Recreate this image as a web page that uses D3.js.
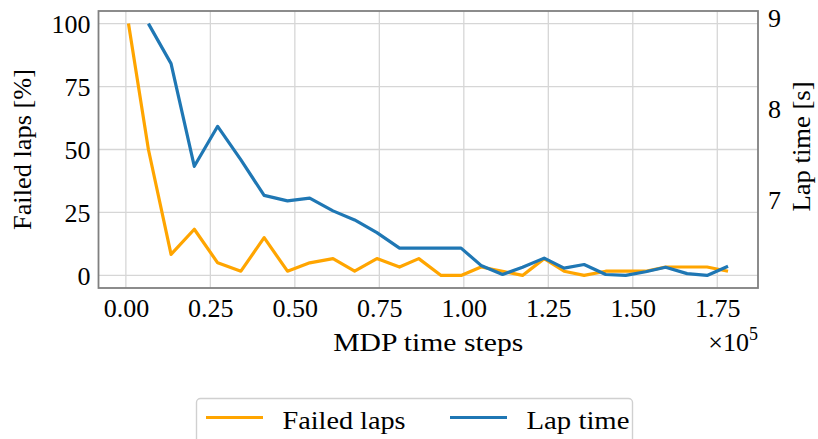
<!DOCTYPE html>
<html>
<head>
<meta charset="utf-8">
<script src="https://cdn.jsdelivr.net/npm/d3@7"></script>
<style>
  html, body { margin: 0; padding: 0; background: #fff; }
  svg { display: block; }
  text { font-family: "Liberation Serif", "Times New Roman", serif; fill: #000; }
</style>
</head>
<body>
<svg id="chart" width="818" height="439"></svg>
<script>
// Training progress: evaluation every few thousand MDP steps
const steps = [770, 6670, 13370, 20250, 27160, 34040, 40910, 47820, 54400, 61290,
               67690, 74280, 80970, 86670, 93280, 99190, 105090, 111470, 117370, 123780,
               129680, 135590, 141990, 147900, 153800, 159700, 166080, 171980, 178180];

// Share of evaluation laps that failed [%]
const failedLaps = [100, 50, 8.33, 18.33, 5, 1.67, 15, 1.67, 5, 6.67,
                    1.67, 6.67, 3.33, 6.67, 0, 0, 3.33, 1.67, 0, 6.67,
                    1.67, 0, 1.67, 1.67, 1.67, 3.33, 3.33, 3.33, 1.67];

// Mean lap time of completed laps [s] (none completed at the first evaluation)
const lapTime = [null, 8.94, 8.50, 7.37, 7.81, 7.44, 7.05, 6.99, 7.02, 6.88,
                 6.78, 6.64, 6.47, 6.47, 6.47, 6.47, 6.28, 6.18, 6.26, 6.36,
                 6.25, 6.29, 6.18, 6.17, 6.21, 6.26, 6.19, 6.17, 6.27];

const xTicks = [0, 25000, 50000, 75000, 100000, 125000, 150000, 175000];
const leftTicks = [0, 25, 50, 75, 100];
const rightTicks = [7, 8, 9];

const seriesNames = ["Failed laps", "Lap time"];
const seriesColors = ["#ffa500", "#1f77b4"];

const svg = d3.select("#chart");
const frame = { left: 98.5, top: 11, right: 758, bottom: 288 };
const W = frame.right - frame.left, H = frame.bottom - frame.top;
const FS = 26;

// matplotlib-style 5% padding around the data extent
function padded(ext) {
  const d = (ext[1] - ext[0]) * 0.05;
  return [ext[0] - d, ext[1] + d];
}
const x = d3.scaleLinear().domain(padded(d3.extent(steps))).range([frame.left, frame.right]);
const yL = d3.scaleLinear().domain(padded(d3.extent(failedLaps))).range([frame.bottom, frame.top]);
const yR = d3.scaleLinear().domain(padded(d3.extent(lapTime.filter(v => v != null)))).range([frame.bottom, frame.top]);

const g = svg.append("g");

// grid (left axis and x axis only)
g.append("g").selectAll("line").data(xTicks).join("line")
  .attr("x1", d => x(d)).attr("x2", d => x(d))
  .attr("y1", frame.top).attr("y2", frame.bottom)
  .attr("stroke", "#d6d6d6").attr("stroke-width", 1.3);
g.append("g").selectAll("line").data(leftTicks).join("line")
  .attr("x1", frame.left).attr("x2", frame.right)
  .attr("y1", d => yL(d)).attr("y2", d => yL(d))
  .attr("stroke", "#d6d6d6").attr("stroke-width", 1.3);

// axes via d3 axis generators, styled without tick marks
const xAxis = g.append("g").attr("transform", `translate(0,${frame.bottom})`)
  .call(d3.axisBottom(x).tickValues(xTicks).tickSize(0).tickPadding(29)
        .tickFormat(d => (d / 1e5).toFixed(2)));
const leftAxis = g.append("g").attr("transform", `translate(${frame.left},0)`)
  .call(d3.axisLeft(yL).tickValues(leftTicks).tickSize(0).tickPadding(8).tickFormat(d3.format("d")));
const rightAxis = g.append("g").attr("transform", `translate(${frame.right},0)`)
  .call(d3.axisRight(yR).tickValues(rightTicks).tickSize(0).tickPadding(10).tickFormat(d3.format("d")));

[xAxis, leftAxis, rightAxis].forEach(a => {
  a.select(".domain").remove();
  a.selectAll("text").attr("font-size", FS).attr("font-family", "Liberation Serif, serif").attr("fill", "#000");
});
xAxis.selectAll("text").attr("dy", null).attr("y", 29);
leftAxis.selectAll("text").attr("dy", "0.34em");
rightAxis.selectAll("text").attr("dy", "0.34em");

// lines
const lineFailed = d3.line().x((d, i) => x(steps[i])).y(d => yL(d));
const lineLap = d3.line().defined(d => d != null).x((d, i) => x(steps[i])).y(d => yR(d));

g.append("path").datum(failedLaps).attr("d", lineFailed)
  .attr("fill", "none").attr("stroke", seriesColors[0]).attr("stroke-width", 3.2)
  .attr("stroke-linejoin", "round");
g.append("path").datum(lapTime).attr("d", lineLap)
  .attr("fill", "none").attr("stroke", seriesColors[1]).attr("stroke-width", 3.2)
  .attr("stroke-linejoin", "round");

// frame
g.append("rect").attr("x", frame.left).attr("y", frame.top).attr("width", W).attr("height", H)
  .attr("fill", "none").attr("stroke", "#808080").attr("stroke-width", 1.8);

// axis titles
svg.append("text").attr("x", (frame.left + frame.right) / 2).attr("y", 351)
  .attr("text-anchor", "middle").attr("font-size", FS)
  .attr("textLength", 190).attr("lengthAdjust", "spacingAndGlyphs")
  .text("MDP time steps");

const off = svg.append("text").attr("x", frame.right).attr("y", 351)
  .attr("text-anchor", "end").attr("font-size", FS);
off.append("tspan").text("×10");
off.append("tspan").attr("font-size", 18).attr("dy", -11).text("5");

svg.append("text")
  .attr("transform", `translate(31,${(frame.top + frame.bottom) / 2}) rotate(-90)`)
  .attr("text-anchor", "middle").attr("font-size", FS)
  .attr("textLength", 161).attr("lengthAdjust", "spacingAndGlyphs")
  .text("Failed laps [%]");

svg.append("text")
  .attr("transform", `translate(809.5,${(frame.top + frame.bottom) / 2 - 3}) rotate(-90)`)
  .attr("text-anchor", "middle").attr("font-size", FS)
  .attr("textLength", 130).attr("lengthAdjust", "spacingAndGlyphs")
  .text("Lap time [s]");

// legend
const leg = svg.append("g");
leg.append("rect").attr("x", 196.5).attr("y", 398.5).attr("width", 436).attr("height", 70)
  .attr("rx", 4).attr("fill", "#fff").attr("stroke", "#d0d0d0").attr("stroke-width", 1.4);
const legItems = [
  { name: seriesNames[0], color: seriesColors[0], x0: 206, tx: 282.5, tl: 123 },
  { name: seriesNames[1], color: seriesColors[1], x0: 450, tx: 526.5, tl: 103 }
];
legItems.forEach(it => {
  leg.append("line").attr("x1", it.x0).attr("x2", it.x0 + 57)
    .attr("y1", 417.5).attr("y2", 417.5)
    .attr("stroke", it.color).attr("stroke-width", 3.2);
  leg.append("text").attr("x", it.tx).attr("y", 428.5).attr("font-size", FS)
    .attr("textLength", it.tl).attr("lengthAdjust", "spacingAndGlyphs")
    .text(it.name);
});
</script>
</body>
</html>
